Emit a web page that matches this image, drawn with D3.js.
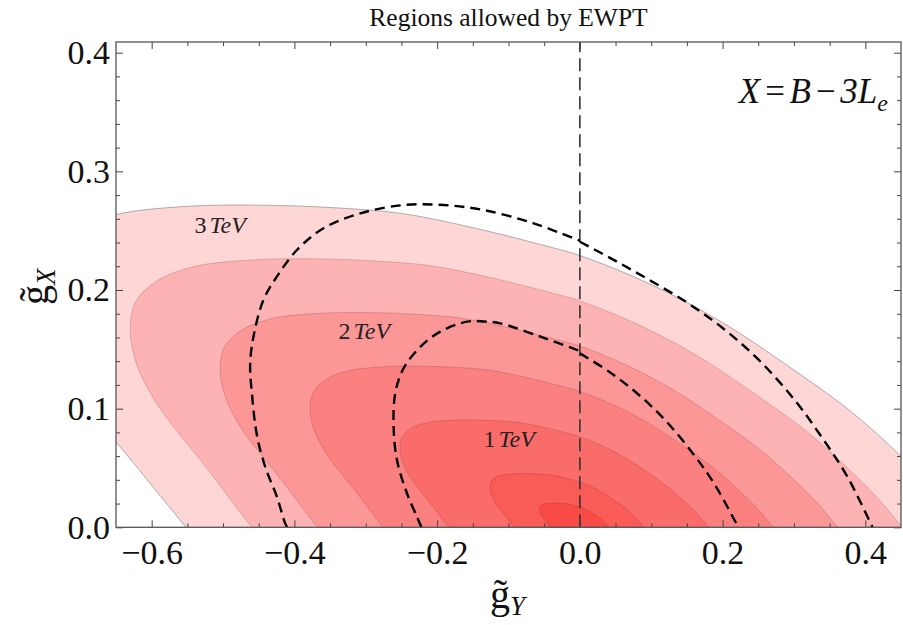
<!DOCTYPE html>
<html><head><meta charset="utf-8">
<script src="https://cdn.jsdelivr.net/npm/d3@7"></script>
<style>body{margin:0;background:#fff}svg{display:block}</style>
</head><body><svg id="c" width="903" height="625"></svg>
<script>
// ---- data: contours of allowed regions, [gY, gX] (outer = 3 TeV ... inner) ----
const contour3 = [[-0.527,-0.02],[-0.552,0],[-0.590,0.028],[-0.625,0.054],[-0.665,0.083],[-0.700,0.112],[-0.728,0.141],[-0.747,0.168],[-0.756,0.198],[-0.747,0.228],[-0.710,0.2495],[-0.650,0.2635],[-0.550,0.2705],[-0.450,0.2715],[-0.350,0.2695],[-0.250,0.2645],[-0.150,0.2525],[-0.050,0.2375],[0,0.229],[0.100,0.2045],[0.200,0.1725],[0.300,0.1325],[0.380,0.0975],[0.450,0.060],[0.500,0.030],[0.542,0],[0.570,-0.02]];
const contour25 = [[-0.4392,-0.0167],[-0.46,0],[-0.4917,0.025],[-0.5208,0.0483],[-0.5542,0.0733],[-0.5833,0.0958],[-0.6067,0.1183],[-0.6225,0.14],[-0.63,0.165],[-0.6225,0.19],[-0.5917,0.2079],[-0.5417,0.2196],[-0.4583,0.2254],[-0.375,0.2263],[-0.2917,0.2246],[-0.2083,0.2204],[-0.125,0.2104],[-0.0417,0.1979],[0,0.1908],[0.0833,0.1704],[0.1667,0.1438],[0.25,0.1104],[0.3167,0.0813],[0.375,0.05],[0.4167,0.025],[0.4517,0],[0.475,-0.0167]];
const contour2 = [[-0.3513,-0.0133],[-0.368,0],[-0.3933,0.02],[-0.4167,0.0387],[-0.4433,0.0587],[-0.4667,0.0767],[-0.4853,0.0947],[-0.498,0.112],[-0.504,0.132],[-0.498,0.152],[-0.4733,0.1663],[-0.4333,0.1757],[-0.3667,0.1803],[-0.3,0.181],[-0.2333,0.1797],[-0.1667,0.1763],[-0.1,0.1683],[-0.0333,0.1583],[0,0.1527],[0.0667,0.1363],[0.1333,0.115],[0.2,0.0883],[0.2533,0.065],[0.3,0.04],[0.3333,0.02],[0.3613,0],[0.38,-0.0133]];
const contour15 = [[-0.2635,-0.01],[-0.276,0],[-0.295,0.015],[-0.3125,0.029],[-0.3325,0.044],[-0.35,0.0575],[-0.364,0.071],[-0.3735,0.084],[-0.378,0.099],[-0.3735,0.114],[-0.355,0.1248],[-0.325,0.1318],[-0.275,0.1353],[-0.225,0.1358],[-0.175,0.1348],[-0.125,0.1323],[-0.075,0.1263],[-0.025,0.1188],[0,0.1145],[0.05,0.1023],[0.1,0.0863],[0.15,0.0663],[0.19,0.0488],[0.225,0.03],[0.25,0.015],[0.271,0],[0.285,-0.01]];
const contour1 = [[-0.1757,-0.0067],[-0.184,0],[-0.1967,0.01],[-0.2083,0.0193],[-0.2217,0.0293],[-0.2333,0.0383],[-0.2427,0.0473],[-0.249,0.056],[-0.252,0.066],[-0.249,0.076],[-0.2367,0.0832],[-0.2167,0.0878],[-0.1833,0.0902],[-0.15,0.0905],[-0.1167,0.0898],[-0.0833,0.0882],[-0.05,0.0842],[-0.0167,0.0792],[0,0.0763],[0.0333,0.0682],[0.0667,0.0575],[0.1,0.0442],[0.1267,0.0325],[0.15,0.02],[0.1667,0.01],[0.1807,0],[0.19,-0.0067]];
const contour05 = [[-0.0878,-0.0033],[-0.092,0],[-0.0983,0.005],[-0.1042,0.0097],[-0.1108,0.0147],[-0.1167,0.0192],[-0.1213,0.0237],[-0.1245,0.028],[-0.126,0.033],[-0.1245,0.038],[-0.1192,0.0417],[-0.1083,0.044],[-0.0917,0.0451],[-0.075,0.0453],[-0.0583,0.0449],[-0.0417,0.0441],[-0.025,0.0421],[-0.0083,0.0396],[0,0.0382],[0.0167,0.0341],[0.0333,0.0288],[0.05,0.0221],[0.0633,0.0163],[0.075,0.01],[0.0833,0.005],[0.0903,0],[0.095,-0.0033]];
const contourCore = [[-0.0395,-0.0015],[-0.0414,0],[-0.0443,0.0023],[-0.0469,0.0044],[-0.0499,0.0066],[-0.0525,0.0086],[-0.0546,0.0107],[-0.056,0.0126],[-0.0567,0.0149],[-0.056,0.0171],[-0.0536,0.0188],[-0.0488,0.0198],[-0.0413,0.0203],[-0.0338,0.0204],[-0.0263,0.0202],[-0.0188,0.0198],[-0.0113,0.0189],[-0.0038,0.0178],[0,0.0172],[0.0075,0.0153],[0.015,0.0129],[0.0225,0.0099],[0.0285,0.0073],[0.0338,0.0045],[0.0375,0.0023],[0.0407,0],[0.0428,-0.0015]];

// dashed bounds (left / right of gY = 0)
const dashOuterLeft = [[-0.410,0],[-0.413,0.0034],[-0.4246,0.0258],[-0.441,0.0511],[-0.4525,0.0775],[-0.4596,0.113],[-0.462,0.137],[-0.4574,0.1606],[-0.4434,0.1916],[-0.4246,0.2112],[-0.3965,0.2337],[-0.3592,0.252],[-0.3078,0.2646],[-0.247,0.2716],[-0.191,0.2716],[-0.135,0.2674],[-0.0648,0.2562],[0,0.2415]];
const dashOuterRight = [[0,0.2407],[0.05,0.2245],[0.10,0.2075],[0.15,0.1895],[0.20,0.168],[0.25,0.1415],[0.30,0.108],[0.34,0.075],[0.375,0.0425],[0.41,0]];
const dashInnerLeft = [[-0.222,0],[-0.2283,0.0089],[-0.2423,0.0287],[-0.2563,0.0567],[-0.261,0.0848],[-0.2587,0.113],[-0.247,0.134],[-0.2236,0.152],[-0.1956,0.1649],[-0.158,0.1733],[-0.135,0.1735],[-0.1115,0.1719],[-0.0554,0.1606],[-0.004,0.1494],[0,0.148]];
const dashInnerRight = [[0,0.1466],[0.04,0.1315],[0.08,0.113],[0.12,0.09],[0.16,0.061],[0.19,0.035],[0.222,0]];
const refLineGY = [0];

const massLabels = [["3",-0.504,0.2483],["2",-0.302,0.1587],["1",-0.099,0.0679]];

const xMajor = [-0.6,-0.4,-0.2,0.0,0.2,0.4];
const xMinor = [-0.55,-0.5,-0.45,-0.35,-0.3,-0.25,-0.15,-0.1,-0.05,0.05,0.1,0.15,0.25,0.3,0.35];
const yMajor = [0.0,0.1,0.2,0.3,0.4];
const yMinor = [0.02,0.04,0.06,0.08,0.12,0.14,0.16,0.18,0.22,0.24,0.26,0.28,0.32,0.34,0.36,0.38];

// ---- styles ----
const fills = ["#fed6d6","#fdb3b3","#fc9797","#fb8080","#fa6c6a","#f95b57","#f84b46"];
const L = 116, R = 901, T = 42, B = 527.3;
const serif = "'Liberation Serif','Times New Roman',serif";

const svg = d3.select("#c");
const x = d3.scaleLinear().domain([-0.65,0.45]).range([L,R]);
const y = d3.scaleLinear().domain([0,0.409]).range([B,T]);

svg.append("defs").append("clipPath").attr("id","clip")
  .append("rect").attr("x",L).attr("y",T).attr("width",R-L).attr("height",B-T);

const line = d3.line().x(d=>x(d[0])).y(d=>y(d[1])).curve(d3.curveCatmullRom.alpha(0.5));
const plot = svg.append("g").attr("clip-path","url(#clip)");

[contour3,contour25,contour2,contour15,contour1,contour05,contourCore].forEach((c,i)=>{
  plot.append("path").attr("d",line(c)).attr("fill",fills[i])
    .attr("stroke", i===0 ? "#a9a0a0" : "rgba(120,40,40,0.25)").attr("stroke-width",0.9);
});

plot.selectAll("line.ref").data(refLineGY).enter().append("line")
  .attr("x1",d=>x(d)).attr("x2",d=>x(d)).attr("y1",y(0)).attr("y2",y(0.409))
  .attr("stroke","#333").attr("stroke-width",1.6).attr("stroke-dasharray","13,6");

[dashOuterLeft,dashOuterRight,dashInnerLeft,dashInnerRight].forEach(c=>{
  plot.append("path").attr("d",line(c)).attr("fill","none").attr("stroke","#000")
    .attr("stroke-width",2.4).attr("stroke-dasharray","10,6");
});

// mass labels
massLabels.forEach(([m,gy,gx])=>{
  const t = svg.append("text").attr("x",x(gy)).attr("y",y(gx)).attr("text-anchor","middle")
    .attr("font-family",serif).attr("font-size",24).attr("fill","#222");
  t.append("tspan").text(m);
  t.append("tspan").attr("dx",3).attr("font-style","italic").text("TeV");
});

// axes
function styleAxis(g){ g.select(".domain").remove(); g.selectAll("line").attr("stroke","#444");
  g.selectAll("text").attr("font-family",serif).attr("font-size",34).attr("fill","#111"); }
const fmt = d3.format(".1f");
svg.append("g").attr("transform",`translate(0,${B})`)
  .call(d3.axisBottom(x).tickValues(xMajor).tickSizeInner(-7).tickSizeOuter(0).tickPadding(13).tickFormat(fmt)).call(styleAxis);
svg.append("g").attr("transform",`translate(0,${B})`)
  .call(d3.axisBottom(x).tickValues(xMinor).tickSizeInner(-4).tickSizeOuter(0).tickFormat("")).call(styleAxis);
svg.append("g").attr("transform",`translate(0,${T})`)
  .call(d3.axisTop(x).tickValues(xMajor).tickSizeInner(-7).tickSizeOuter(0).tickFormat("")).call(styleAxis);
svg.append("g").attr("transform",`translate(0,${T})`)
  .call(d3.axisTop(x).tickValues(xMinor).tickSizeInner(-4).tickSizeOuter(0).tickFormat("")).call(styleAxis);
svg.append("g").attr("transform",`translate(${L},0)`)
  .call(d3.axisLeft(y).tickValues(yMajor).tickSizeInner(-7).tickSizeOuter(0).tickPadding(6).tickFormat(fmt)).call(styleAxis);
svg.append("g").attr("transform",`translate(${L},0)`)
  .call(d3.axisLeft(y).tickValues(yMinor).tickSizeInner(-4).tickSizeOuter(0).tickFormat("")).call(styleAxis);
svg.append("g").attr("transform",`translate(${R},0)`)
  .call(d3.axisRight(y).tickValues(yMajor).tickSizeInner(-7).tickSizeOuter(0).tickFormat("")).call(styleAxis);
svg.append("g").attr("transform",`translate(${R},0)`)
  .call(d3.axisRight(y).tickValues(yMinor).tickSizeInner(-4).tickSizeOuter(0).tickFormat("")).call(styleAxis);

svg.append("rect").attr("x",L).attr("y",T).attr("width",R-L).attr("height",B-T)
  .attr("fill","none").attr("stroke","#555").attr("stroke-width",1.3);

// title
svg.append("text").attr("x",(L+R)/2).attr("y",26).attr("text-anchor","middle")
  .attr("font-family",serif).attr("font-size",25.5).attr("fill","#111").text("Regions allowed by EWPT");

// model label
const ml = svg.append("text").attr("x",888).attr("y",103).attr("text-anchor","end")
  .attr("font-family",serif).attr("font-size",35).attr("font-style","italic").attr("fill","#111");
ml.append("tspan").text("X\u200A=\u200AB\u200A\u2212\u200A3L");
ml.append("tspan").attr("dy",8).attr("font-size",24).text("e");

// axis titles
const xl = svg.append("text").attr("x",490).attr("y",608).attr("font-family",serif).attr("fill","#111");
xl.append("tspan").attr("font-size",40).text("g\u0303");
xl.append("tspan").attr("font-size",27).attr("font-style","italic").attr("dy",7).text("Y");

const yl = svg.append("text").attr("transform","translate(48,305) rotate(-90)").attr("font-family",serif).attr("fill","#111");
yl.append("tspan").attr("font-size",40).text("g\u0303");
yl.append("tspan").attr("font-size",27).attr("font-style","italic").attr("dy",7).text("X");
</script></body></html>
